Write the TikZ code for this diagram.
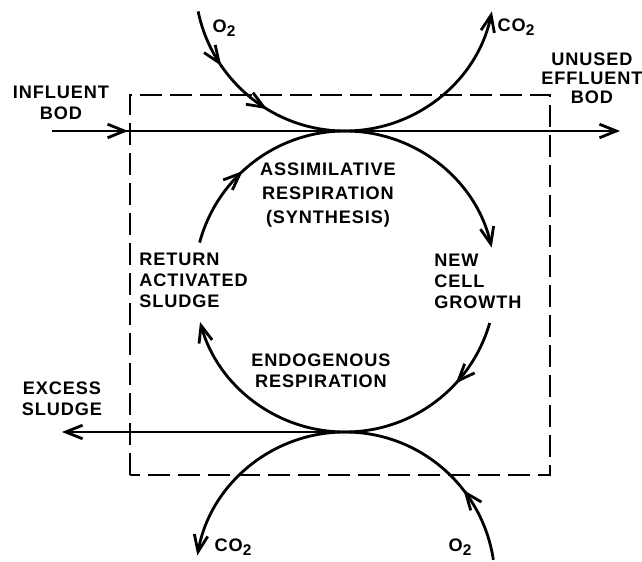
\documentclass[tikz,border=0pt]{standalone}
\usepackage{fontspec}
\newfontfamily\lettering[LetterSpace=5]{Liberation Sans}
\usetikzlibrary{arrows.meta,decorations.markings}
\newcommand{\lowtwo}{\raisebox{-0.45ex}{\fontsize{11}{11}\selectfont 2}}

\begin{document}
\begin{tikzpicture}[line width=2pt,
>={Straight Barb[length=4.2mm,width=3.4mm]},
lbl/.style={font=\lettering\bfseries\fontsize{12.9}{15}\selectfont,inner sep=0pt,align=center},
boxline/.style={dash pattern=on 5.5mm off 2mm,line width=1.8pt},
midarrow/.style={postaction={decorate,decoration={markings,mark=at position #1 with {\arrow{>}}}}}]
\useasboundingbox (0,0) rectangle (16.05,14.025);
% centres of the three circles
\coordinate (air) at (8.625,14.5);
\coordinate (cyc) at (8.625,6.9875);
\coordinate (gas) at (8.625,-0.525);
\def\rc{3.7625}
\def\rg{3.75}
% aeration basin
\draw[boxline] (3.25,2.15) rectangle (13.75,11.65);
% labels
\node[lbl] (influent) at (1.525,11.46) {INFLUENT\\BOD};
\node[lbl,font=\lettering\bfseries\fontsize{12.9}{13.5}\selectfont] (effluent) at (14.8,12.075) {UNUSED\\EFFLUENT\\BOD};
\node[lbl] (o2top) at (5.6,13.325) {O\lowtwo};
\node[lbl] (co2top) at (12.9,13.35) {CO\lowtwo};
\node[lbl,font=\lettering\bfseries\fontsize{12.9}{17}\selectfont] (assim) at (8.2,9.15) {ASSIMILATIVE\\RESPIRATION\\(SYNTHESIS)};
\node[lbl,anchor=west,align=left] (ras) at (3.45,7.025) {RETURN\\ACTIVATED\\SLUDGE};
\node[lbl,anchor=west,align=left] (growth) at (10.825,7.0) {NEW\\CELL\\GROWTH};
\node[lbl] (endo) at (8.025,4.7625) {ENDOGENOUS\\RESPIRATION};
\node[lbl] (excess) at (1.55,4.05) {EXCESS\\SLUDGE};
\node[lbl] (co2bot) at (5.825,0.35) {CO\lowtwo};
\node[lbl] (o2bot) at (11.5,0.35) {O\lowtwo};
% BOD in and out
\coordinate (inflow) at (1.3,10.75);
\coordinate (outflow) at (15.5,10.75);
\coordinate (low) at (8.625,3.225);
\coordinate (wasteout) at (1.55,3.225);
\draw[->,midarrow=0.134] (inflow) -- (outflow);
\draw[->] (low) -- (wasteout);
% oxygen in, carbon dioxide out (top)
\draw[midarrow=0.29,midarrow=0.6] (air) ++(191.7:\rg) arc[start angle=191.7,end angle=270,radius=\rg];
\draw[->] (air) ++(270:\rg) arc[start angle=270,end angle=348.3,radius=\rg];
% sludge cycle
\draw[midarrow=0.43] (cyc) ++(165:\rc) arc[start angle=165,end angle=90,radius=\rc];
\draw[->] (cyc) ++(90:\rc) arc[start angle=90,end angle=13,radius=\rc];
\draw[midarrow=0.36] (cyc) ++(-16:\rc) arc[start angle=-16,end angle=-90,radius=\rc];
\draw[->] (cyc) ++(-90:\rc) arc[start angle=-90,end angle=-164.4,radius=\rc];
% oxygen in, carbon dioxide out (bottom)
\draw[->] (gas) ++(90:\rg) arc[start angle=90,end angle=169.8,radius=\rg];
\draw[midarrow=0.36] (gas) ++(8.5:\rg) arc[start angle=8.5,end angle=90,radius=\rg];
\end{tikzpicture}
\end{document}
